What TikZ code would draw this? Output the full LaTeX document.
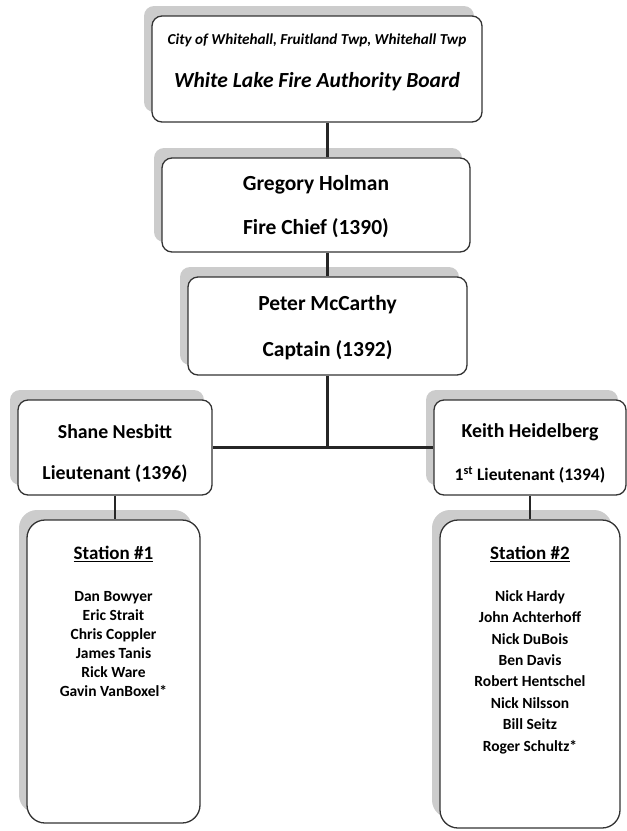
\documentclass[tikz,border=0pt]{standalone}
\usepackage{fontspec}
\setmainfont{Carlito}
\usetikzlibrary{shadows}

\tikzset{
  box/.style={draw=black!80, line width=1.3pt, fill=white, rounded corners=10pt,
    inner sep=0pt,
    general shadow={fill=black!20, shadow xshift=-8pt, shadow yshift=10pt}},
  tallbox/.style={box, rounded corners=18pt},
  link/.style={line width=2.8pt, black!85},
  headtxt/.style={font=\fontsize{21.5}{24}\selectfont\bfseries},
  lttxt/.style={font=\fontsize{19.8}{22}\selectfont\bfseries},
  smalltxt/.style={font=\fontsize{15.2}{17}\selectfont\bfseries\itshape},
  sttitle/.style={font=\fontsize{19}{22}\selectfont\bfseries},
}

\begin{document}
\begin{tikzpicture}[x=1pt,y=-1pt]
  \useasboundingbox (0,0) rectangle (627,831);

  %% boxes
  \node[box, minimum width=330pt, minimum height=106pt] (board) at (317,69) {};
  \node[box, minimum width=308pt, minimum height=94pt] (chief) at (316,205) {};
  \node[box, minimum width=279pt, minimum height=98pt] (captain) at (327.5,326) {};
  \node[box, minimum width=194pt, minimum height=95pt] (ltleft) at (115,447.5) {};
  \node[box, minimum width=192pt, minimum height=95pt] (ltright) at (530,447.5) {};
  \node[tallbox, minimum width=173pt, minimum height=303pt] (stone) at (113.5,671.5) {};
  \node[tallbox, minimum width=180pt, minimum height=308pt] (sttwo) at (530,674) {};

  %% connectors
  \draw[link] (board.south -| captain.north) -- (chief.north -| captain.north);
  \draw[link] (chief.south -| captain.north) -- (captain.north);
  \draw[link] (captain.south) -- (captain.south |- ltleft.east);
  \draw[link] (ltleft.east) -- (ltright.west);
  \draw[link] (ltleft.south) -- (ltleft.south |- stone.north);
  \draw[link] (ltright.south) -- (ltright.south |- sttwo.north);

  %% texts
  \node[smalltxt] (boardtop) at (317,40) {City of Whitehall, Fruitland Twp, Whitehall Twp};
  \node[headtxt, font=\fontsize{21.5}{24}\selectfont\bfseries\itshape] (boardname) at (317,82) {White Lake Fire Authority Board};

  \node[headtxt] (chiefname) at (316,185) {Gregory Holman};
  \node[headtxt] (chiefrank) at (316,228) {Fire Chief (1390)};

  \node[headtxt] (captname) at (327.5,305) {Peter McCarthy};
  \node[headtxt] (captrank) at (327.5,350) {Captain (1392)};

  \node[lttxt] (ltlname) at (115,432) {Shane Nesbitt};
  \node[lttxt] (ltlrank) at (115,474) {Lieutenant (1396)};
  \node[lttxt] (ltrname) at (530,432) {Keith Heidelberg};
  \node[lttxt, font=\fontsize{17.5}{20}\selectfont\bfseries] (ltrrank) at (530,475) {1\textsuperscript{st} Lieutenant (1394)};

  \node[sttitle] (stonetitle) at (113.5,554) {\underline{Station \#1}};
  \node[font=\fontsize{15.5}{19}\selectfont\bfseries, align=center] (stonecrew) at (113.5,644)
    {Dan Bowyer\\Eric Strait\\Chris Coppler\\James Tanis\\Rick Ware\\Gavin VanBoxel*};

  \node[sttitle] (sttwotitle) at (530,554) {\underline{Station \#2}};
  \node[font=\fontsize{15.5}{21.4}\selectfont\bfseries, align=center] (sttwocrew) at (530,672)
    {Nick Hardy\\John Achterhoff\\Nick DuBois\\Ben Davis\\Robert Hentschel\\Nick Nilsson\\Bill Seitz\\Roger Schultz*};

\end{tikzpicture}
\end{document}
